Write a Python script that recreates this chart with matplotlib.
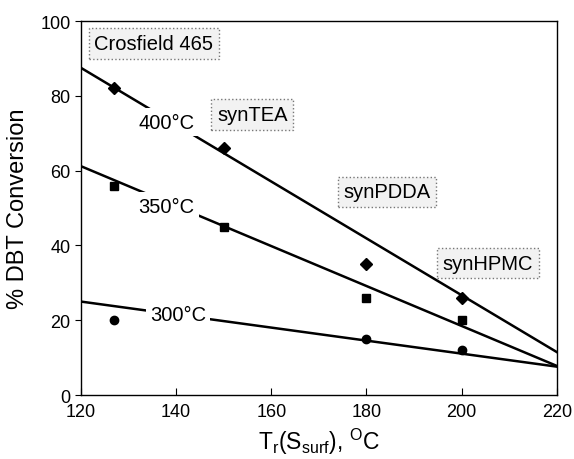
import matplotlib
matplotlib.use("Agg")
import matplotlib.pyplot as plt

plt.rcParams['font.family'] = ['Liberation Sans', 'DejaVu Sans']
plt.rcParams['mathtext.fontset'] = 'custom'
plt.rcParams['mathtext.rm'] = 'Liberation Sans'
plt.rcParams['mathtext.it'] = 'Liberation Sans'

# data
x400 = [127, 150, 180, 200]
y400 = [82, 66, 35, 26]
x350 = [127, 150, 180, 200]
y350 = [56, 45, 26, 20]
x300 = [127, 180, 200]
y300 = [20, 15, 12]
fit_x = [120, 220]
fit400 = [87.5, 11.5]
fit350 = [61.2, 7.8]
fit300 = [25.0, 7.6]

fig = plt.figure(figsize=(5.74, 4.6), dpi=100)
ax = fig.add_axes([0.141, 0.139, 0.829, 0.813])

for fy in (fit400, fit350, fit300):
    ax.plot(fit_x, fy, color='black', lw=1.8, zorder=2)

ax.plot(x400, y400, 'D', color='black', ms=6, zorder=3)
ax.plot(x350, y350, 's', color='black', ms=6, zorder=3)
ax.plot(x300, y300, 'o', color='black', ms=6, zorder=3)

lab_kw = dict(fontsize=14.5, ha='center', va='center', zorder=4,
              bbox=dict(facecolor='white', edgecolor='none', pad=3))
ax.text(138, 73, '400°C', **lab_kw)
ax.text(138, 50.5, '350°C', **lab_kw)
ax.text(140.4, 21.6, '300°C', **lab_kw)

box_kw = dict(fontsize=14.5, ha='center', va='center', zorder=4,
              bbox=dict(facecolor='#f2f2f2', edgecolor='#777777', linestyle=':', lw=1, pad=4))
ax.text(135.3, 94, 'Crosfield 465', **box_kw)
ax.text(156, 75, 'synTEA', **box_kw)
ax.text(184.3, 54.3, 'synPDDA', **box_kw)
ax.text(205.5, 35.3, 'synHPMC', **box_kw)

ax.set_xlim(120, 220)
ax.set_ylim(0, 100)
ax.set_xticks([120, 140, 160, 180, 200, 220])
ax.set_yticks([0, 20, 40, 60, 80, 100])
ax.tick_params(axis='x', direction='in', length=5, labelsize=13, pad=6)
ax.tick_params(axis='y', direction='out', length=4, labelsize=13)
for s in ax.spines.values():
    s.set_linewidth(1.0)

ax.set_xlabel(r'T$_{\rm r}$(S$_{\rm surf}$), $^{\rm O}$C', fontsize=16.5, labelpad=4)
ax.set_ylabel('% DBT Conversion', fontsize=17, labelpad=8)

fig.savefig('out.png', dpi=100)
